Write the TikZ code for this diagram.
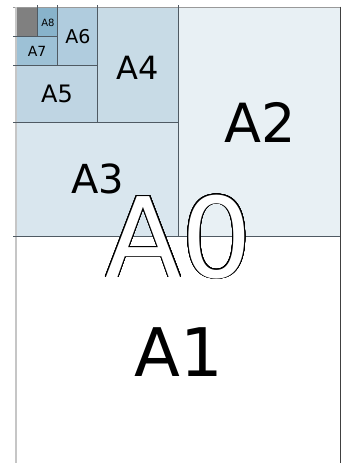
\documentclass[tikz,border=0pt]{standalone}
\usepackage{fontspec}
\setmainfont{DejaVu Sans}
\usetikzlibrary{calc}
\definecolor{cA2}{HTML}{E8F0F4}
\definecolor{cA3}{HTML}{D9E6EE}
\definecolor{cA4}{HTML}{C8DBE6}
\definecolor{cA5}{HTML}{BFD5E3}
\definecolor{cA6}{HTML}{B0CCDE}
\definecolor{cA7}{HTML}{9DC1D6}
\definecolor{cA8}{HTML}{88B3CB}
\definecolor{cA9}{HTML}{808080}
\definecolor{divline}{HTML}{4F5A63}
\begin{document}
\begin{tikzpicture}[x=1pt,y=-1pt,
  divider/.style={draw=divline,line width=0.8pt},
  lbl/.style={anchor=base,inner sep=0pt,text=black}]
\useasboundingbox (0,0) rectangle (344,463);
\fill[white] (0,0) rectangle (344,463);
% sheets
\fill[cA2] (178,7) rectangle (340,236);
\fill[cA3] (16,122) rectangle (178,236);
\fill[cA4] (97,7) rectangle (178,122);
\fill[cA5] (16,65) rectangle (97,122);
\fill[cA6] (57,7) rectangle (97,65);
\fill[cA7] (16,36) rectangle (57,65);
\fill[cA8] (37,7) rectangle (57,36);
\fill[cA9] (16,7) rectangle (37,36);
% borders
\draw[draw=gray!80,line width=1pt] (13,7) -- (340,7);
\draw[draw=gray!45,line width=2pt] (16,7) -- (16,463);
\draw[draw=black!75,line width=1pt] (340,6.5) -- (340,463);
% dividers
\draw[divider] (13,236) -- (340,236);
\draw[divider] (178,5) -- (178,236);
\draw[divider] (13,122) -- (178,122);
\draw[divider] (97,5) -- (97,122);
\draw[divider] (13,65) -- (97,65);
\draw[divider] (57,5) -- (57,65);
\draw[divider] (13,36) -- (57,36);
\draw[divider] (37,5) -- (37,36);
% labels
\node[lbl] (a1) at (179,376) {\fontsize{67}{67}\selectfont A1};
\node[lbl] (a2) at (260,142) {\fontsize{54}{54}\selectfont A2};
\node[lbl] (a3) at (98,193) {\fontsize{40}{40}\selectfont A3};
\node[lbl] (a4) at (138,79) {\fontsize{32}{32}\selectfont A4};
\node[lbl] (a5) at (57,102) {\fontsize{24}{24}\selectfont A5};
\node[lbl] (a6) at (78,43) {\fontsize{19}{19}\selectfont A6};
\node[lbl] (a7) at (37,56) {\fontsize{14}{14}\selectfont A7};
\node[lbl] (a8) at (48,27) {\fontsize{10}{10}\selectfont A8};
% outlined A0
\foreach \ang in {0,12,...,348}{
  \node[lbl,text=black] at ($(179,277)+(\ang:1.0)$) {\fontsize{111}{111}\selectfont A0};
}
\node[lbl,text=white] (a0) at (179,277) {\fontsize{111}{111}\selectfont A0};
\end{tikzpicture}
\end{document}
